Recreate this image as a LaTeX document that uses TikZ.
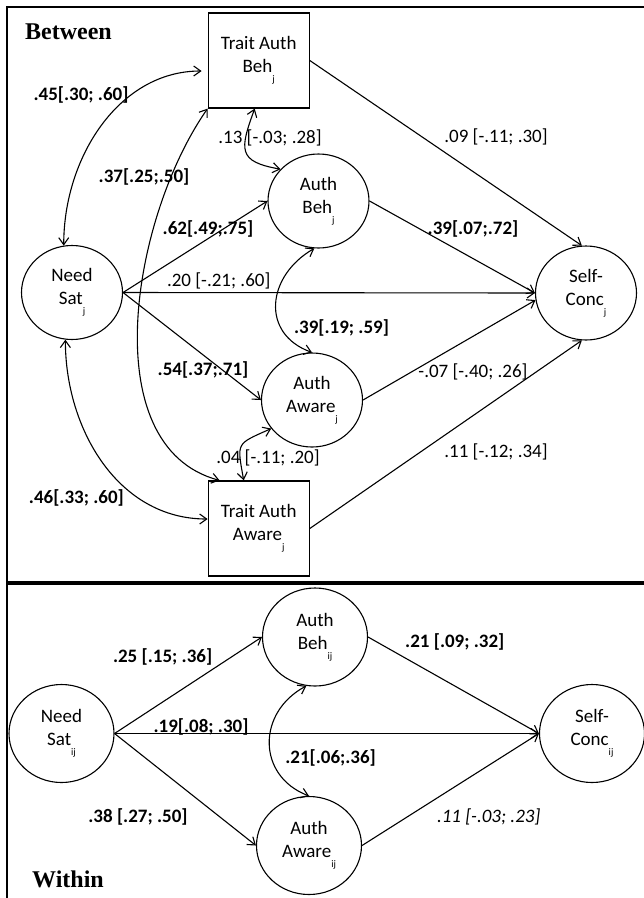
\documentclass[tikz,border=0pt]{standalone}
\usepackage{fontspec}
\setmainfont{Carlito}
\newfontfamily\panelfont{Liberation Serif}
\usepackage{tikz}
\usetikzlibrary{
	arrows.meta,shapes.geometric
}
\newcommand{\lvl}[1]{\raisebox{-10pt}{\fontsize{10}{10}\selectfont #1}}

\begin{document}
\begin{tikzpicture}[x=1pt,y=1pt,
		every node/.style={font=\fontsize{19}{23}\selectfont},
		var/.style={draw,line width=1.1pt,ellipse,inner sep=0pt,minimum width=101pt,minimum height=94pt,align=center},
		var'/.style={var,minimum width=105pt,minimum height=98pt},
		trait/.style={draw,line width=1.2pt,rectangle,inner sep=0pt,minimum width=101pt,minimum height=95pt,align=center},
		est/.style={inner sep=1pt},
		sig/.style={inner sep=1pt,font=\fontsize{19}{23}\selectfont\bfseries},
		panel/.style={anchor=west,inner sep=0pt,font=\panelfont\bfseries\fontsize{24}{24}\selectfont},
		>={Straight Barb[length=7pt,width=10pt]}]
		\useasboundingbox (0,0) rectangle (644,-898);
		
		\draw[line width=2.4pt] (7.2,-898) -- (7.2,-7.2) -- (644,-7.2);
		\draw[line width=3.5pt] (7.2,-583) -- (644,-583);
		
		\node (between) [panel] at (25,-32) {Between};
		\node (within) [panel] at (32,-879) {Within};
		
		\node (TAB) [trait] at (258.7,-60.5) {Trait Auth\\Beh\lvl{j}};
		\node (AB) [var] at (318.5,-201) {Auth\\Beh\lvl{j}};
		\node (NS) [var] at (72,-292.5) {Need\\Sat\lvl{j}};
		\node (SC) [var] at (586,-293) {Self-\\Conc\lvl{j}};
		\node (AA) [var] at (312,-400) {Auth\\Aware\lvl{j}};
		\node (TAA) [trait] at (258.7,-528.5) {Trait Auth\\Aware\lvl{j}};
		
		\node (AB') [var'] at (315,-637) {Auth\\Beh\lvl{ij}};
		\node (NS') [var'] at (61.5,-733.5) {Need\\Sat\lvl{ij}};
		\node (SC') [var'] at (592,-733.5) {Self-\\Conc\lvl{ij}};
		\node (AA') [var'] at (309,-845.5) {Auth\\Aware\lvl{ij}};
		
		\node (c45) [sig] at (81,-95) {.45[.30; .60]};
		\node (c37) [sig] at (144,-177) {.37[.25;.50]};
		\node (c13) [est] at (270,-138) {.13 [-.03; .28]};
		\node (c09) [est] at (496,-137) {.09 [-.11; .30]};
		\node (c62) [sig] at (208,-229) {.62[.49;.75]};
		\node (c39) [sig] at (473,-229) {.39[.07;.72]};
		\node (c20) [est] at (218.7,-281) {.20 [-.21; .60]};
		\node (r39) [sig] at (341.5,-328) {.39[.19; .59]};
		\node (c54) [sig] at (203,-370) {.54[.37;.71]};
		\node (c07) [est] at (473,-372) {-.07 [-.40; .26]};
		\node (c04) [est] at (268,-458) {.04 [-.11; .20]};
		\node (c11) [est] at (496,-452) {.11 [-.12; .34]};
		\node (c46) [sig] at (76.4,-498) {.46[.33; .60]};
		
		\node (c25') [sig] at (162.6,-657) {.25 [.15; .36]};
		\node (c21') [sig] at (454.8,-642) {.21 [.09; .32]};
		\node (c19') [sig] at (201,-727) {.19[.08; .30]};
		\node (r21') [sig] at (330.6,-758) {.21[.06;.36]};
		\node (c38') [sig] at (138,-817) {.38 [.27; .50]};
		\node (c11') [est,font=\fontsize{19}{23}\selectfont\itshape] at (488.7,-817) {.11 [-.03; .23]};
		%
		\path[->,line width=1.1pt]
		(NS.100) edge[<->,out=90,in=180,shorten >=6pt] ([yshift=-10.5pt]TAB.west)
		(TAB.south west) edge[<->,out=235,in=165,looseness=0.9] ([xshift=12pt]TAA.north west)
		([xshift=-4pt]TAB.south) edge[<->,out=250,in=170,looseness=1.7] (AB.140)
		(TAB.east) edge (SC.95)
		(NS.east) edge (AB.west)
		(AB.east) edge (SC.west)
		(NS.east) edge (SC.west)
		(AB.265) edge[<->,out=210,in=160,looseness=1.35] (AA.north)
		(NS.east) edge (AA.west)
		(AA.east) edge (SC.188)
		(AA.215) edge[<->,out=204,in=100,looseness=1.7] ([xshift=-15pt]TAA.north)
		(TAA.east) edge (SC.265)
		(NS.262) edge[<->,out=270,in=180] ([yshift=9.5pt]TAA.west)
		
		(NS'.east) edge (AB'.west)
		(AB'.east) edge (SC'.west)
		(NS'.east) edge (SC'.west)
		(AB'.260) edge[<->,out=208,in=159,looseness=1.3] (AA'.north)
		(NS'.east) edge (AA'.west)
		(AA'.east) edge (SC'.west);
		
	\end{tikzpicture}
\end{document}
